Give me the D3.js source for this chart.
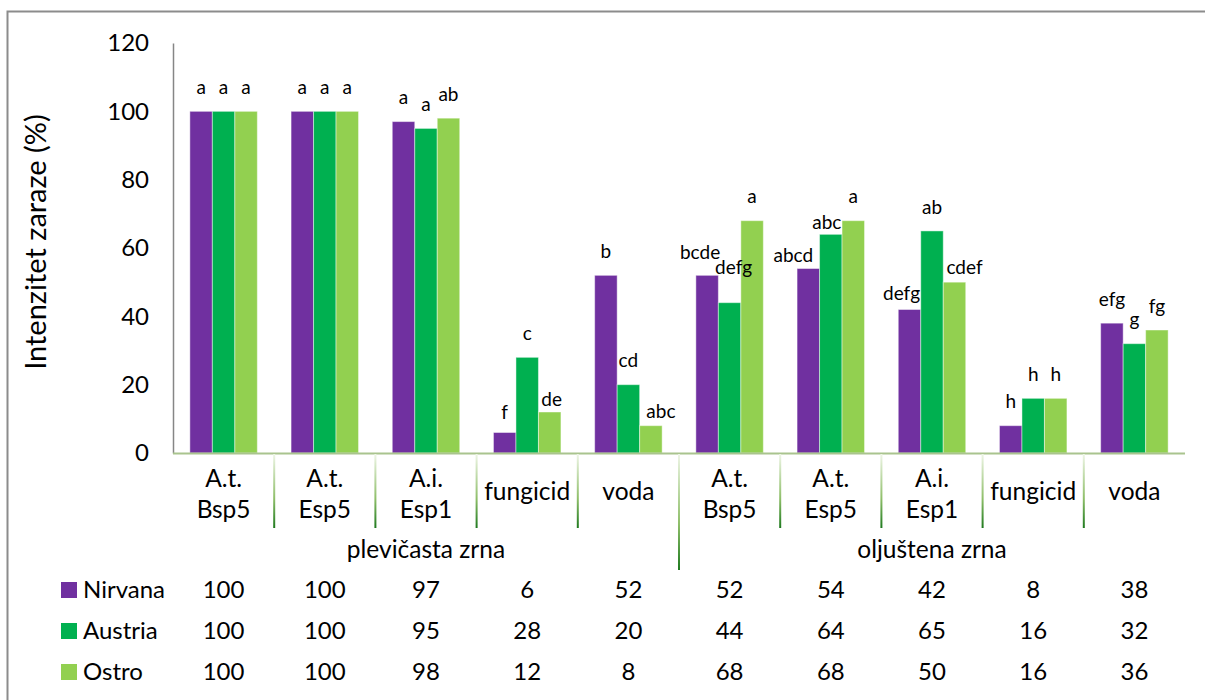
<!DOCTYPE html>
<html><head><meta charset="utf-8">
<script src="https://cdn.jsdelivr.net/npm/d3@7/dist/d3.min.js"></script>
<style>
html,body{margin:0;padding:0;background:#fff;}
svg text{font-family:Lato,"Open Sans",sans-serif;fill:#000;}
</style></head>
<body>
<svg id="chart" width="1205" height="700"></svg>
<script>
// ---- data ----
const categories = [["A.t.","Bsp5"],["A.t.","Esp5"],["A.i.","Esp1"],["fungicid"],["voda"],
                    ["A.t.","Bsp5"],["A.t.","Esp5"],["A.i.","Esp1"],["fungicid"],["voda"]];
const groups = ["plevičasta zrna","oljuštena zrna"];
const seriesNames = ["Nirvana","Austria","Ostro"];
const nirvana = [100,100,97,6,52,52,54,42,8,38];
const austria = [100,100,95,28,20,44,64,65,16,32];
const ostro   = [100,100,98,12,8,68,68,50,16,36];
const nirvanaLetters = ["a","a","a","f","b","bcde","abcd","defg","h","efg"];
const austriaLetters = ["a","a","a","c","cd","defg","abc","ab","h","g"];
const ostroLetters   = ["a","a","ab","de","abc","a","a","cdef","h","fg"];
const yTicks = [0,20,40,60,80,100,120];

// ---- styles / layout ----
const colors = ["#7030A0","#00B050","#92D050"];
const values = [nirvana, austria, ostro];
const letters = [nirvanaLetters, austriaLetters, ostroLetters];
// manual label nudges (pixels) as in the original: key "series-category"
const labelNudge = {
  "0-3":[0,-19], "2-3":[2,-12], "2-4":[10,-13],
  "0-5":[-7,-22], "1-5":[4,-34],
  "0-6":[-15,-12], "1-6":[-4,-11],
  "0-7":[-8,-15], "2-7":[10,-14]
};

const svg = d3.select("#chart");
const plotL = 173, plotR = 1185, plotT = 43, plotB = 453;

// outer frame (clipped at right/bottom like the original)
svg.append("path").attr("d", `M7.5,700 L7.5,11.5 L1205,11.5`)
  .attr("fill","none").attr("stroke","#8c8c8c").attr("stroke-width",2);

const x0 = d3.scaleBand().domain(d3.range(categories.length)).range([plotL,plotR]);
const bw = x0.bandwidth();
const x1 = d3.scaleBand().domain(d3.range(seriesNames.length)).range([bw/6, bw*5/6]);
const y = d3.scaleLinear().domain([0,120]).range([plotB, plotT]);

// y axis
const yAxis = svg.append("g").attr("transform",`translate(${plotL},0)`)
  .call(d3.axisLeft(y).tickValues(yTicks).tickSize(0).tickPadding(24));
yAxis.select(".domain").attr("stroke","#868686").attr("stroke-width",1.5);
yAxis.selectAll("text").style("font-size","24px").style("font-family","Lato");

svg.append("text").attr("transform",`translate(36,242) rotate(-90)`)
  .attr("text-anchor","middle").attr("dy","0.35em").style("font-size","29px")
  .text("Intenzitet zaraze (%)");

// bars
const cg = svg.append("g").selectAll("g").data(d3.range(categories.length)).join("g")
  .attr("transform", i => `translate(${x0(i)},0)`);
cg.selectAll("rect").data(i => seriesNames.map((s,k)=>({k, i, v: values[k][i]}))).join("rect")
  .attr("x", d => x1(d.k)).attr("width", x1.bandwidth())
  .attr("y", d => y(d.v)).attr("height", d => y(0)-y(d.v))
  .attr("fill", d => colors[d.k])
  .attr("stroke","rgba(255,255,255,0.45)").attr("stroke-width",1);

// significance letters
cg.selectAll("text.lab").data(i => seriesNames.map((s,k)=>({k, i, v: values[k][i], t: letters[k][i]}))).join("text")
  .attr("class","lab")
  .attr("x", d => x1(d.k) + x1.bandwidth()/2 + (labelNudge[d.k+"-"+d.i]||[0,-23])[0])
  .attr("y", d => y(d.v) + (labelNudge[d.k+"-"+d.i]||[0,-23])[1])
  .attr("dy","0.3em").attr("text-anchor","middle").style("font-size","19px")
  .text(d => d.t);

// category axis line
svg.append("line").attr("x1",plotL).attr("x2",plotR).attr("y1",plotB+0.5).attr("y2",plotB+0.5)
  .attr("stroke","#a9c48e").attr("stroke-width",2);

// separators with gradient
const defs = svg.append("defs");
const grad = defs.append("linearGradient").attr("id","sepg").attr("x1",0).attr("y1",0).attr("x2",0).attr("y2",1);
grad.append("stop").attr("offset","0%").attr("stop-color","#eef5e6");
grad.append("stop").attr("offset","60%").attr("stop-color","#8fbf6a");
grad.append("stop").attr("offset","100%").attr("stop-color","#1f7a1f");
d3.range(1, categories.length).forEach(i => {
  const xs = x0(i);
  const ye = (i === 5) ? 570 : 528;
  svg.append("rect").attr("x", xs-1).attr("y", plotB+1).attr("width",2).attr("height", ye-plotB-1)
    .attr("fill","url(#sepg)");
});

// category labels
categories.forEach((lines,i) => {
  const cx = x0(i) + bw/2;
  const ys = lines.length === 2 ? [478, 509] : [491];
  lines.forEach((ln,j) => {
    svg.append("text").attr("x",cx).attr("y",ys[j]).attr("dy","0.35em")
      .attr("text-anchor","middle").style("font-size","24.5px").text(ln);
  });
});
// group labels
groups.forEach((g,gi) => {
  const cx = x0(gi*5) + bw*2.5;
  svg.append("text").attr("x",cx).attr("y",549).attr("dy","0.35em")
    .attr("text-anchor","middle").style("font-size","24.5px").text(g);
});

// data table with legend keys
const rowY = [590, 631, 672];
seriesNames.forEach((s,k) => {
  svg.append("rect").attr("x",61).attr("y",rowY[k]-8).attr("width",16).attr("height",16).attr("fill",colors[k]);
  svg.append("text").attr("x",83).attr("y",rowY[k]).attr("dy","0.35em").style("font-size","24px").text(s);
  values[k].forEach((v,i) => {
    svg.append("text").attr("x", x0(i)+bw/2).attr("y",rowY[k]).attr("dy","0.35em")
      .attr("text-anchor","middle").style("font-size","24px").text(v);
  });
});
</script>
</body></html>
